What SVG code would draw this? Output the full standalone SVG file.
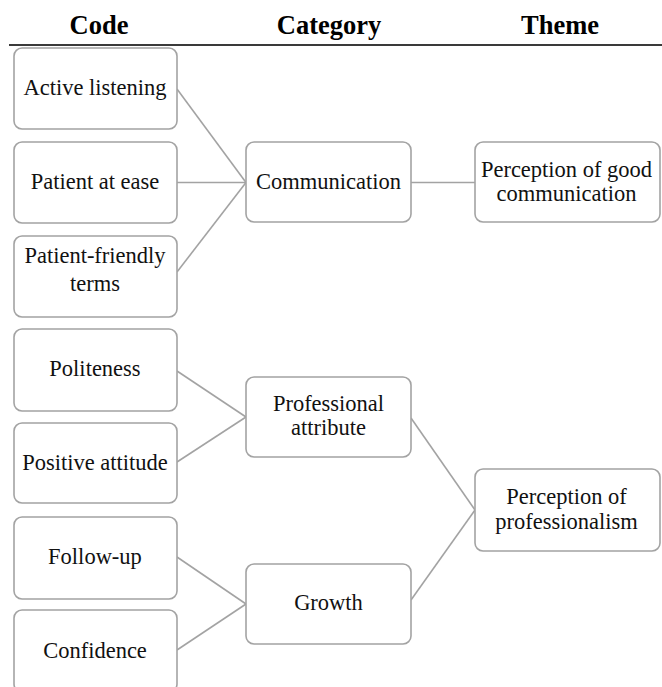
<svg xmlns="http://www.w3.org/2000/svg" width="662" height="687" viewBox="0 0 662 687">
<style>
.hdr{font-family:"Liberation Serif","Times New Roman",serif;font-weight:bold;font-size:26.5px;fill:#000;text-anchor:middle}
.box{fill:#fff;stroke:#a3a3a3;stroke-width:1.6}
.t{font-family:"Liberation Serif","Times New Roman",serif;font-size:22.5px;fill:#111;text-anchor:middle}
.c{stroke:#a3a3a3;stroke-width:1.6;fill:none}
</style>
<rect width="662" height="687" fill="#fff"/>
<g id="header">
<text class="hdr" x="99" y="34">Code</text>
<text class="hdr" x="329" y="34">Category</text>
<text class="hdr" x="560" y="34">Theme</text>
<line x1="9" y1="45" x2="662" y2="45" stroke="#3a3a3a" stroke-width="2"/>
</g>
<g id="connectors">
<line class="c" x1="177" y1="89" x2="246" y2="182.5"/>
<line class="c" x1="177" y1="182.5" x2="246" y2="182.5"/>
<line class="c" x1="177" y1="272" x2="246" y2="182.5"/>
<line class="c" x1="411" y1="182.5" x2="475" y2="182.5"/>
<line class="c" x1="177" y1="371" x2="246" y2="417"/>
<line class="c" x1="177" y1="462" x2="246" y2="417"/>
<line class="c" x1="177" y1="557" x2="246" y2="604"/>
<line class="c" x1="177" y1="650" x2="246" y2="604"/>
<line class="c" x1="411" y1="418" x2="475" y2="510"/>
<line class="c" x1="411" y1="600" x2="475" y2="510"/>
</g>
<g id="active-listening"><rect class="box" x="14" y="48" width="163" height="81" rx="8"/><text class="t" x="95" y="95">Active listening</text></g>
<g id="patient-at-ease"><rect class="box" x="14" y="142" width="163" height="81" rx="8"/><text class="t" x="95" y="188.5">Patient at ease</text></g>
<g id="patient-friendly-terms"><rect class="box" x="14" y="236" width="163" height="81" rx="8"/><text class="t" x="95" y="263">Patient-friendly</text><text class="t" x="95" y="290.5">terms</text></g>
<g id="politeness"><rect class="box" x="14" y="329" width="163" height="82" rx="8"/><text class="t" x="95" y="375.5">Politeness</text></g>
<g id="positive-attitude"><rect class="box" x="14" y="423" width="163" height="80" rx="8"/><text class="t" x="95" y="470">Positive attitude</text></g>
<g id="follow-up"><rect class="box" x="14" y="517" width="163" height="82" rx="8"/><text class="t" x="95" y="564">Follow-up</text></g>
<g id="confidence"><rect class="box" x="14" y="610" width="163" height="82" rx="8"/><text class="t" x="95" y="658">Confidence</text></g>
<g id="communication"><rect class="box" x="246" y="142" width="165" height="80" rx="8"/><text class="t" x="328.5" y="188.5">Communication</text></g>
<g id="professional-attribute"><rect class="box" x="246" y="377" width="165" height="80" rx="8"/><text class="t" x="328.5" y="410.5">Professional</text><text class="t" x="328.5" y="435">attribute</text></g>
<g id="growth"><rect class="box" x="246" y="564" width="165" height="80" rx="8"/><text class="t" x="328.5" y="610">Growth</text></g>
<g id="perception-good-communication"><rect class="box" x="475" y="142" width="185" height="80" rx="8"/><text class="t" x="566.5" y="176.5">Perception of good</text><text class="t" x="566.5" y="201">communication</text></g>
<g id="perception-professionalism"><rect class="box" x="475" y="469" width="185" height="82" rx="8"/><text class="t" x="566.5" y="504">Perception of</text><text class="t" x="566.5" y="528.5">professionalism</text></g>
</svg>
